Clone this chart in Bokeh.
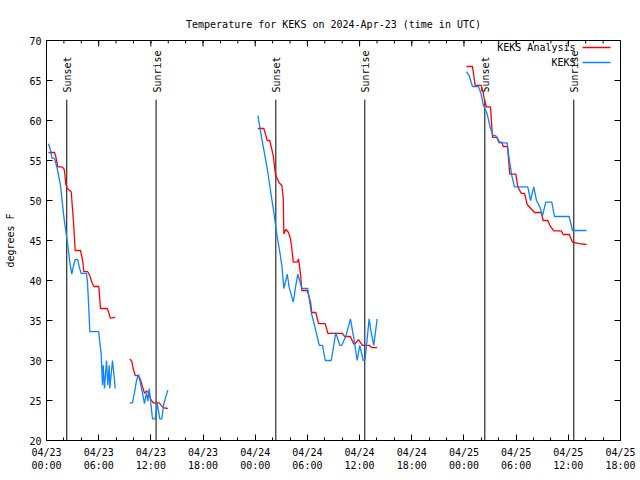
import numpy as np
from bokeh.plotting import figure
from bokeh.models import Range1d, FixedTicker
from bokeh.embed import file_html
from bokeh.resources import INLINE
from bokeh.core.properties import value

FONT = "DejaVu Sans Mono"
TITLE = "Temperature for KEKS on 2024-Apr-23 (time in UTC)"
Y_LABEL = "degrees F"

# x axis: hours since 04/23 00:00 UTC
tick_hours = [0, 6, 12, 18, 24, 30, 36, 42, 48, 54, 60, 66]
tick_dates = ["04/23"] * 4 + ["04/24"] * 4 + ["04/25"] * 4
tick_times = ["00:00", "06:00", "12:00", "18:00"] * 3
minor_hours = list(range(0, 67, 2))
y_ticks = [20, 25, 30, 35, 40, 45, 50, 55, 60, 65, 70]

sunset_hours = [2.33, 26.37, 50.40]
sunrise_hours = [12.60, 36.60, 60.63]

# KEKS Analysis (red)
ana1_h = [0.23, 0.92, 1.07, 1.15, 1.30, 1.76, 1.99, 2.07, 2.22, 2.38, 2.84, 3.10, 3.30, 3.91, 4.17, 4.29,
          4.75, 4.98, 5.21, 5.44, 6.01, 6.21, 6.98, 7.13, 7.33, 7.90]
ana1_t = [56.0, 56.0, 55.5, 55.0, 54.2, 54.2, 54.0, 53.7, 52.1, 51.5, 51.1, 47.4, 43.75, 43.75, 42.4, 41.1,
          41.1, 40.6, 39.8, 39.25, 39.25, 36.5, 36.5, 36.1, 35.3, 35.4]
ana2_h = [9.58, 9.81, 9.97, 10.20, 10.58, 10.81, 11.04, 11.27, 11.50, 11.73, 11.96, 12.27, 12.96, 13.19,
          13.42, 13.95]
ana2_t = [30.2, 29.9, 29.0, 28.1, 28.1, 27.6, 26.7, 25.9, 26.2, 26.0, 25.2, 24.7, 24.7, 24.4, 24.1, 24.0]
ana3_h = [24.30, 24.99, 25.15, 25.38, 25.68, 25.84, 26.07, 26.30, 26.45, 26.76, 27.06, 27.22, 27.29, 27.52,
          27.83, 28.06, 28.21, 28.37, 28.83, 28.98, 29.21, 29.36, 29.98, 30.36, 30.51, 30.97, 31.28, 32.05,
          32.35, 34.03, 34.27, 34.95, 35.27, 35.41, 35.87, 36.33, 37.10, 37.40, 38.02]
ana3_t = [59.0, 59.0, 58.4, 57.5, 57.5, 56.7, 55.6, 53.5, 52.9, 52.2, 51.9, 50.3, 45.8, 46.4,
          46.0, 45.2, 44.0, 42.3, 42.3, 42.7, 40.8, 38.75, 38.75, 37.3, 36.0, 36.0, 34.6, 34.6,
          33.4, 33.4, 33.0, 33.0, 32.2, 32.0, 32.6, 31.9, 31.9, 31.6, 31.6]
ana4_h = [48.29, 48.98, 49.29, 49.98, 50.21, 50.36, 50.59, 51.05, 51.28, 51.82, 52.05, 52.35, 52.51, 53.01,
          53.27, 53.96, 54.19, 54.58, 54.96, 55.27, 56.11, 56.88, 57.11, 57.64, 57.87, 58.33, 59.18, 59.41,
          60.10, 60.48, 61.25, 62.09]
ana4_t = [66.75, 66.75, 64.4, 64.4, 63.5, 62.5, 61.7, 61.7, 57.9, 57.9, 57.3, 57.3, 56.75, 56.75,
          53.3, 53.3, 51.7, 50.9, 50.9, 49.5, 48.5, 48.5, 47.5, 47.5, 46.9, 46.2, 46.2, 45.75,
          45.75, 44.8, 44.6, 44.5]

# KEKS observations (blue)
obs1_h = [0.23, 0.54, 0.61, 0.92, 1.23, 1.61, 1.81, 2.07, 2.30, 2.45, 2.68, 2.91, 3.07, 3.30, 3.60, 3.76,
          3.99, 4.60, 4.71, 4.83, 4.98, 6.01, 6.13, 6.29, 6.44, 6.52, 6.67, 6.90, 7.05, 7.21, 7.28, 7.59,
          7.82, 7.90]
obs1_t = [57.1, 56.0, 55.3, 55.3, 54.0, 51.9, 49.8, 47.3, 45.6, 44.4, 42.3, 40.8, 41.7, 42.6, 42.6, 41.7,
          40.9, 40.9, 39.8, 37.3, 33.6, 33.6, 32.3, 30.8, 26.9, 29.4, 26.5, 30.0, 26.9, 29.4, 26.5, 30.0,
          27.5, 26.5]
obs2_h = [9.58, 9.89, 10.12, 10.35, 10.58, 10.89, 11.27, 11.50, 11.65, 11.81, 12.04, 12.19, 12.50, 12.73,
          13.03, 13.26, 13.49, 13.95]
obs2_t = [24.7, 24.7, 26.0, 27.5, 28.25, 26.7, 24.6, 26.0, 24.9, 26.5, 24.2, 22.7, 22.7, 24.6,
          22.7, 22.7, 24.6, 26.3]
obs3_h = [24.30, 24.76, 25.15, 25.45, 25.84, 26.14, 26.45, 26.76, 27.06, 27.29, 27.68, 27.91, 28.37, 28.67,
          28.90, 29.36, 30.04, 30.44, 30.82, 31.36, 31.74, 32.05, 32.74, 33.03, 33.26, 33.72, 33.95, 34.41,
          34.95, 35.33, 35.72, 36.02, 36.41, 36.64, 37.10, 37.33, 37.63, 38.02]
obs3_t = [60.6, 57.7, 55.4, 53.5, 50.6, 48.5, 46.0, 44.0, 41.9, 39.0, 40.8, 39.1, 37.3, 39.4,
          40.8, 39.0, 39.0, 36.0, 34.4, 31.9, 31.9, 30.0, 30.0, 31.9, 33.5, 31.9, 31.9, 33.0,
          35.2, 32.8, 30.0, 31.9, 30.0, 30.2, 35.2, 33.5, 31.9, 35.2]
obs4_h = [48.29, 48.60, 48.98, 49.67, 49.98, 50.21, 50.67, 51.05, 51.36, 51.67, 52.05, 52.97, 53.20, 53.50,
          53.81, 55.34, 55.65, 56.03, 56.34, 56.72, 57.03, 57.41, 58.10, 58.41, 60.10, 60.48, 62.09]
obs4_t = [66.1, 65.6, 64.25, 64.25, 63.3, 62.0, 60.8, 59.0, 58.1, 58.1, 57.2, 57.2, 55.2, 53.1,
          51.7, 51.7, 50.0, 51.7, 50.0, 49.2, 48.1, 49.8, 49.8, 48.0, 48.0, 46.25, 46.25]


def join(hs, ts):
    xs, ys = [], []
    for h, t in zip(hs, ts):
        if xs:
            xs.append(np.nan)
            ys.append(np.nan)
        xs += h
        ys += t
    return xs, ys


ana_x, ana_y = join([ana1_h, ana2_h, ana3_h, ana4_h], [ana1_t, ana2_t, ana3_t, ana4_t])
obs_x, obs_y = join([obs1_h, obs2_h, obs3_h, obs4_h], [obs1_t, obs2_t, obs3_t, obs4_t])

X0, X1, Y0, Y1 = 0, 66, 20, 70
p = figure(width=640, height=480, output_backend="svg", toolbar_location=None,
           x_range=Range1d(X0, X1), y_range=Range1d(Y0, Y1),
           min_border_left=46, min_border_right=20, min_border_top=40, min_border_bottom=40)
p.title.text = TITLE
p.title.text_font = FONT
p.title.text_font_size = "10px"
p.title.text_font_style = "normal"
p.title.text_color = "black"
p.title.align = "center"
p.title.offset = 0
p.title.standoff = 21
p.grid.visible = False
p.outline_line_color = "black"
p.outline_line_width = 1
p.background_fill_color = "white"

p.xaxis.ticker = FixedTicker(ticks=tick_hours, minor_ticks=minor_hours)
p.yaxis.ticker = FixedTicker(ticks=y_ticks)
p.xaxis.major_label_overrides = {h: f"{d}\n{t}" for h, d, t in zip(tick_hours, tick_dates, tick_times)}
for ax in (p.xaxis, p.yaxis):
    ax.major_tick_in = 6
    ax.major_tick_out = 0
    ax.minor_tick_in = 3
    ax.minor_tick_out = 0
    ax.major_label_text_font = FONT
    ax.major_label_text_font_size = "10px"
    ax.major_label_text_color = "black"
    ax.axis_line_color = "black"
    ax.major_tick_line_color = "black"
    ax.minor_tick_line_color = "black"
p.xaxis.major_label_standoff = 6
p.yaxis.major_label_standoff = 5
p.yaxis.minor_tick_line_color = None
p.yaxis.axis_label = Y_LABEL
p.yaxis.axis_label_text_font = FONT
p.yaxis.axis_label_text_font_size = "10px"
p.yaxis.axis_label_text_font_style = "normal"
p.yaxis.axis_label_text_color = "black"
p.yaxis.axis_label_standoff = 10

# mirror ticks on top and right borders (gnuplot style)
px_per_h = 574 / (X1 - X0)
px_per_deg = 400 / (Y1 - Y0)
p.segment(x0=tick_hours, y0=[Y1] * len(tick_hours), x1=tick_hours,
          y1=[Y1 - 6 / px_per_deg] * len(tick_hours), line_color="black", line_width=1)
p.segment(x0=minor_hours, y0=[Y1] * len(minor_hours), x1=minor_hours,
          y1=[Y1 - 3 / px_per_deg] * len(minor_hours), line_color="black", line_width=1)
p.segment(x0=[X1] * len(y_ticks), y0=y_ticks, x1=[X1 - 6 / px_per_h] * len(y_ticks), y1=y_ticks,
          line_color="black", line_width=1)

# sunrise / sunset markers
sun_x = sunset_hours + sunrise_hours
sun_txt = ["Sunset"] * len(sunset_hours) + ["Sunrise"] * len(sunrise_hours)
p.segment(x0=sun_x, y0=[Y0] * len(sun_x), x1=sun_x, y1=[62.6] * len(sun_x), line_color="black", line_width=1)
p.text(x=sun_x, y=[63.5] * len(sun_x), text=sun_txt, angle=np.pi / 2, text_align="left",
       text_baseline="middle", text_font=value(FONT), text_font_size="10px", text_color="black", x_offset=1)

RED = "#ff0000"
BLUE = "#0a84ff"
p.line(ana_x, ana_y, line_color=RED, line_width=1.3)
p.line(obs_x, obs_y, line_color=BLUE, line_width=1.3)

# legend (gnuplot style: text then sample)
p.text(x=[60.83, 60.83], y=[69.125, 67.25], text=["KEKS Analysis", "KEKS"], text_align="right",
       text_baseline="middle", text_font=value(FONT), text_font_size="10px", text_color="black")
p.segment(x0=[61.63], y0=[69.125], x1=[64.85], y1=[69.125], line_color=RED, line_width=1.3)
p.segment(x0=[61.63], y0=[67.25], x1=[64.85], y1=[67.25], line_color=BLUE, line_width=1.3)

open("out.html", "w").write(file_html(p, INLINE))
